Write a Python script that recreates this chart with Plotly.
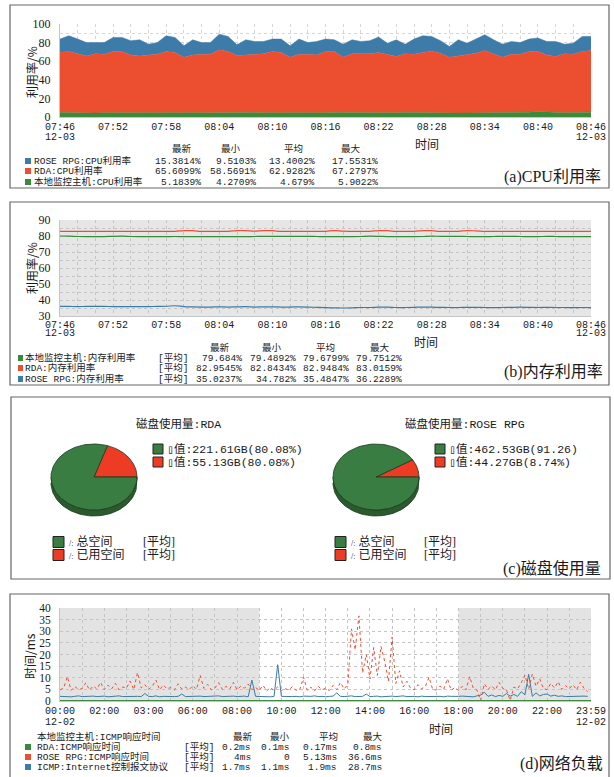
import numpy as np
import plotly.graph_objects as go

W, H = 614, 777

# ---------------- data ----------------
stat_headers = ["最新", "最小", "平均", "最大"]

# (a) CPU usage, one point per minute 07:46 .. 08:46
cpu_time_labels = ["07:46", "07:52", "07:58", "08:04", "08:10", "08:16",
                   "08:22", "08:28", "08:34", "08:40", "08:46"]
cpu_date_label = "12-03"
cpu_local = [4.9, 4.7, 4.8, 4.5, 4.3, 4.7, 4.9, 4.8, 4.6, 4.7,
             4.8, 4.9, 5.0, 4.7, 4.6, 4.8, 4.7, 4.5, 4.7, 4.9,
             4.6, 4.7, 4.8, 4.7, 4.6, 4.7, 4.4, 4.3, 4.5, 4.4,
             4.7, 4.8, 4.7, 4.6, 4.5, 4.3, 4.4, 4.7, 4.6, 4.9,
             4.7, 5.0, 4.8, 4.7, 4.4, 4.3, 4.4, 4.5, 4.7, 4.8,
             4.7, 4.9, 4.7, 5.1, 5.9, 5.4, 4.9, 4.7, 4.8, 5.0,
             5.2]
cpu_rda = [64.8, 65.7, 63.1, 61.2, 63.6, 62.8, 65.5, 65.6, 62.2, 61.0,
           62.0, 62.6, 65.4, 64.6, 59.7, 62.0, 62.8, 63.0, 67.5, 65.5,
           61.5, 62.1, 62.7, 63.2, 65.8, 64.6, 59.9, 63.2, 63.0, 62.4,
           65.7, 65.6, 59.6, 63.3, 63.4, 63.6, 64.9, 62.1, 60.4, 63.0,
           62.8, 64.3, 66.3, 63.9, 59.9, 61.4, 62.4, 64.1, 66.8, 63.1,
           59.6, 62.6, 62.8, 65.3, 64.5, 61.4, 60.1, 63.2, 62.7, 65.4,
           66.3]
cpu_rpg = [14.1, 17.0, 15.9, 14.3, 12.1, 12.5, 15.2, 15.2, 15.2, 17.3,
           11.5, 12.5, 17.0, 16.3, 12.2, 16.2, 12.5, 12.5, 16.8, 16.2,
           11.5, 16.2, 13.7, 13.3, 13.4, 14.5, 12.2, 16.3, 12.5, 14.4,
           13.4, 12.6, 14.0, 15.1, 13.3, 14.1, 16.7, 12.6, 18.0, 10.4,
           16.3, 18.1, 15.5, 13.4, 11.5, 17.3, 12.6, 15.2, 17.0, 15.1,
           14.0, 13.7, 12.5, 13.4, 14.6, 14.4, 16.2, 10.4, 11.9, 16.2,
           15.1]
cpu_names = ["ROSE RPG:CPU利用率", "RDA:CPU利用率", "本地监控主机:CPU利用率"]
cpu_stats = [["15.3814%", "9.5103%", "13.4002%", "17.5531%"],
             ["65.6099%", "58.5691%", "62.9282%", "67.2797%"],
             ["5.1839%", "4.2709%", "4.679%", "5.9022%"]]

# (b) memory usage
mem_local = [80.0, 79.9, 79.7, 79.6, 79.6, 79.6, 79.8, 79.9, 79.7, 79.6,
             79.6, 79.6, 79.6, 79.7, 79.6, 79.6, 79.6, 79.6, 79.6, 79.6,
             79.6, 79.6, 79.7, 79.8, 79.8, 79.8, 79.8, 79.8, 79.8, 79.7,
             79.6, 79.6, 79.6, 79.6, 79.7, 79.9, 79.8, 79.6, 79.6, 79.6,
             79.6, 79.7, 79.9, 79.8, 79.8, 79.8, 79.7, 79.6, 79.6, 79.7,
             79.8, 79.8, 79.7, 79.6, 79.6, 79.8, 79.7, 79.6, 79.6, 79.6,
             79.6]
mem_rda = [82.9, 82.9, 82.9, 82.9, 82.9, 82.9, 82.9, 82.9, 82.9, 82.9,
           82.9, 82.9, 82.9, 82.9, 83.4, 83.3, 82.9, 82.9, 82.9, 82.9,
           83.4, 83.4, 83.1, 83.4, 83.3, 82.9, 82.9, 82.9, 82.9, 82.9,
           82.9, 83.4, 83.1, 82.9, 82.9, 82.9, 83.4, 83.3, 82.9, 82.9,
           82.9, 83.4, 83.3, 82.9, 82.9, 82.9, 83.4, 83.2, 82.9, 82.9,
           82.9, 82.9, 82.9, 82.9, 82.9, 82.9, 82.9, 82.9, 82.9, 82.9,
           82.9]
mem_rpg = [36.0, 36.0, 35.9, 36.0, 36.0, 36.0, 35.9, 35.9, 35.9, 35.8,
           35.9, 36.0, 36.1, 36.4, 35.9, 35.7, 35.6, 35.6, 35.7, 35.6,
           35.7, 35.8, 35.6, 35.7, 35.7, 35.6, 35.6, 35.7, 35.6, 35.4,
           35.2, 35.1, 35.0, 35.1, 35.3, 35.3, 35.5, 35.6, 35.3, 35.3,
           35.4, 35.6, 35.5, 35.4, 35.3, 35.3, 35.4, 35.4, 35.3, 35.3,
           35.3, 35.4, 35.5, 35.4, 35.3, 35.4, 35.3, 35.3, 35.2, 35.3,
           35.2]
mem_names = ["本地监控主机:内存利用率", "RDA:内存利用率", "ROSE RPG:内存利用率"]
mem_stats = [["79.684%", "79.4892%", "79.6799%", "79.7512%"],
             ["82.9545%", "82.8434%", "82.9484%", "83.0159%"],
             ["35.0237%", "34.782%", "35.4847%", "36.2289%"]]

# (c) disk usage
disk_titles = ["磁盘使用量:RDA", "磁盘使用量:ROSE RPG"]
disk_rda = [221.61, 55.13]
disk_rpg = [462.53, 44.27]
disk_value_labels = [["\u25af值:221.61GB(80.08%)", "\u25af值:55.13GB(80.08%)"],
                     ["\u25af值:462.53GB(91.26)", "\u25af值:44.27GB(8.74%)"]]
disk_series = ["总空间", "已用空间"]

# (d) network, every 10 minutes over 24h
net_time_labels = ["00:00", "02:00", "03:00", "06:00", "08:00", "10:00", "12:00",
                   "14:00", "16:00", "18:00", "20:00", "22:00", "23:59"]
net_date_label = "12-02"
net_tick_minutes = [0, 120, 240, 360, 480, 600, 720, 840, 960, 1080, 1200, 1320, 1439]
net_rpg = [4.8, 5.6, 10.5, 4.6, 6.2, 5.0,
           5.3, 7.8, 4.7, 6.5, 5.1, 8.0,
           4.9, 6.8, 5.2, 7.6, 4.8, 6.0,
           5.5, 8.6, 4.9, 12.2, 5.6, 7.0,
           5.0, 6.3, 9.0, 4.8, 6.9, 5.2,
           5.8, 4.7, 7.4, 5.1, 6.0, 4.9,
           6.6, 5.0, 11.0, 5.4, 7.2, 4.8,
           5.6, 7.9, 4.9, 6.3, 5.2, 8.0,
           4.8, 6.4, 5.5, 7.3, 4.9, 5.8,
           4.5, 6.8, 4.3, 5.7, 4.6, 6.1,
           4.4, 5.3, 4.7, 6.2, 4.5, 5.0,
           10.2, 4.6, 5.9, 4.4, 6.3, 4.8,
           5.5, 4.5, 6.7, 4.9, 8.0, 5.2,
           7.0, 31.0, 22.0, 36.6, 12.0, 20.0,
           9.5, 23.0, 11.0, 23.5, 17.0, 8.5,
           27.5, 7.5, 13.0, 6.0, 8.5, 5.5,
           4.8, 7.0, 5.3, 6.2, 10.2, 5.0,
           4.7, 6.4, 5.1, 9.6, 4.6, 5.8,
           4.5, 6.3, 4.8, 10.5, 5.5, 4.7,
           0.3, 7.4, 5.0, 6.5, 4.8, 8.0,
           5.4, 4.7, 0.2, 6.0, 5.2, 7.8,
           11.2, 5.1, 11.6, 6.3, 9.5, 5.3,
           4.9, 7.6, 5.6, 8.3, 5.0, 6.6,
           5.3, 7.0, 4.8, 8.1, 5.5, 4.0]
net_icmp = [2.0, 1.9, 2.1, 1.8, 2.0, 2.2,
            1.9, 2.0, 1.8, 2.1, 1.9, 2.0,
            2.1, 1.8, 2.0, 1.9, 2.2, 1.9,
            2.0, 1.8, 2.1, 2.0, 1.9, 3.2,
            2.0, 1.9, 2.2, 1.8, 2.0, 1.9,
            2.1, 1.9, 2.0, 3.0, 1.9, 2.0,
            1.8, 2.0, 2.1, 1.9, 2.0, 1.8,
            2.0, 2.2, 1.9, 2.0, 1.8, 2.1,
            1.9, 2.0, 2.1, 1.8, 9.0, 2.0,
            1.9, 2.1, 2.0, 1.8, 2.0, 15.6,
            2.0, 1.9, 2.1, 1.9, 2.0, 1.8,
            2.1, 1.9, 2.0, 2.2, 1.9, 2.0,
            1.8, 2.0, 2.1, 3.5, 2.0, 1.9,
            2.0, 2.2, 1.9, 2.1, 2.0, 3.0,
            1.9, 2.0, 2.1, 1.8, 2.0, 1.9,
            2.1, 1.9, 2.0, 2.2, 1.9, 2.0,
            2.0, 1.8, 2.1, 1.9, 2.0, 2.1,
            1.9, 2.0, 1.8, 2.1, 2.0, 1.9,
            2.0, 2.1, 1.9, 2.0, 1.8, 2.2,
            2.5, 3.8, 2.0, 2.6, 1.9, 2.4,
            2.0, 3.2, 2.1, 2.8, 2.0, 4.0,
            2.6, 11.5, 2.0, 3.5, 2.2, 2.8,
            3.0, 2.1, 2.5, 2.0, 2.2, 1.9,
            2.0, 2.1, 1.9, 2.0, 2.1, 2.0]
net_rda = [0.2, 0.2, 0.2, 0.1, 0.2, 0.2, 0.2, 0.2, 0.2, 0.2, 0.2, 0.1, 0.2,
           0.2, 0.2, 0.2, 0.3, 0.2, 0.2, 0.2, 0.2, 0.2, 0.2, 0.2, 0.2]
offhour_blocks = [(0, 540), (1080, 1439)]
net_header = "本地监控主机:ICMP响应时间"
net_names = ["RDA:ICMP响应时间", "ROSE RPG:ICMP响应时间", "ICMP:Internet控制报文协议"]
net_stats = [["0.2ms", "0.1ms", "0.17ms", "0.8ms"],
             ["4ms", "0", "5.13ms", "36.6ms"],
             ["1.7ms", "1.1ms", "1.9ms", "28.7ms"]]

panel_labels = ["(a)CPU利用率", "(b)内存利用率", "(c)磁盘使用量", "(d)网络负载"]

# ---------------- style ----------------
G = "#3a8a3c"
R = "#ec4f30"
B = "#3d7ba8"
PIE_G = "#3a7d42"
PIE_SIDE = "#2b5a2f"
PIE_R = "#ee3b24"
MONO = "Liberation Mono, Noto Sans CJK SC, monospace"
SERIF = "Liberation Serif, Noto Sans CJK SC, serif"
CJK = "Noto Sans CJK SC"
TXT = "#1a1a1a"


def px(x):
    return x / W


def py(y):
    return 1 - y / H


annotations = []
shapes = []


def text(x, y, s, size=9.5, xanchor="left", family=MONO, angle=0, xref="paper"):
    annotations.append(dict(x=px(x) if xref == "paper" else x, y=py(y), xref=xref, yref="paper",
                            text=s, showarrow=False, xanchor=xanchor, yanchor="middle",
                            textangle=angle, borderpad=0,
                            font=dict(family=family, size=size, color=TXT)))


def rect(x0, y0, x1, y1, fill="rgba(0,0,0,0)", line="rgba(0,0,0,0)", lw=0):
    shapes.append(dict(type="rect", xref="paper", yref="paper",
                       x0=px(x0), x1=px(x1), y0=py(y1), y1=py(y0),
                       fillcolor=fill, line=dict(color=line, width=lw)))


fig = go.Figure()

# ---- (a) stacked areas
for vals, col in [(cpu_local, G), (cpu_rda, R), (cpu_rpg, B)]:
    fig.add_trace(go.Scatter(x=list(range(len(vals))), y=vals, stackgroup="cpu",
                             mode="lines", line=dict(width=0.5, color=col),
                             fillcolor=col, xaxis="x", yaxis="y", hoverinfo="skip"))

# ---- (b) lines
for vals, col in [(mem_local, G), (mem_rda, R), (mem_rpg, B)]:
    fig.add_trace(go.Scatter(x=list(range(len(vals))), y=vals, mode="lines",
                             line=dict(width=1.2, color=col, shape="spline"),
                             xaxis="x2", yaxis="y2", hoverinfo="skip"))

# ---- (d) network
fig.add_trace(go.Scatter(x=[i * 10 for i in range(len(net_icmp))], y=net_icmp, mode="lines",
                         line=dict(width=1, color=B), xaxis="x3", yaxis="y3"))
fig.add_trace(go.Scatter(x=[i * 10 for i in range(len(net_rpg))], y=net_rpg, mode="lines",
                         line=dict(width=1, color=R, dash="dot"), xaxis="x3", yaxis="y3"))
fig.add_trace(go.Scatter(x=[i * 60 for i in range(len(net_rda))], y=net_rda, mode="lines",
                         line=dict(width=1, color=G), xaxis="x3", yaxis="y3"))

# ---- (c) pseudo-3D elliptical pies
PIE_RX, PIE_RY, DEPTH = 43.0, 33.0, 6.0
pie_centers_x = [94, 376]
pie_cy = 477
for k, (vals, cx) in enumerate(zip([disk_rda, disk_rpg], pie_centers_x)):
    ax = str(4 + k)
    d = DEPTH / PIE_RY
    t = np.linspace(np.pi, 2 * np.pi, 80)
    sx = np.concatenate([np.cos(t), np.cos(t[::-1])])
    sy = np.concatenate([np.sin(t), np.sin(t[::-1]) - d])
    fig.add_trace(go.Scatter(x=sx, y=sy, fill="toself", fillcolor=PIE_SIDE, mode="lines",
                             line=dict(color="#1b3a1d", width=0.8),
                             xaxis="x" + ax, yaxis="y" + ax, hoverinfo="skip"))
    total = sum(vals)
    f_used = vals[1] / total
    wedges = [(0, 2 * np.pi * f_used, PIE_R), (2 * np.pi * f_used, 2 * np.pi, PIE_G)]
    for a0, a1, col in wedges:
        tt = np.linspace(a0, a1, 100)
        wx = np.concatenate([[0], np.cos(tt), [0]])
        wy = np.concatenate([[0], np.sin(tt), [0]])
        fig.add_trace(go.Scatter(x=wx, y=wy, fill="toself", fillcolor=col, mode="lines",
                                 line=dict(color="#1b3a1d", width=0.8),
                                 xaxis="x" + ax, yaxis="y" + ax, hoverinfo="skip"))

# ---------------- axes ----------------
grid_a = "#d6d6d6"
xcommon = dict(showline=True, linecolor="#c6c6c6", linewidth=1, zeroline=False, ticks="",
               tickfont=dict(family=MONO, size=10, color=TXT),
               griddash="dot", gridwidth=1, automargin=False)
ycommon = dict(showline=True, linecolor="#c6c6c6", linewidth=1, zeroline=False, ticks="",
               ticklabelstandoff=6, griddash="dot", gridwidth=1, automargin=False)
yfont = dict(family=SERIF, size=12, color=TXT)

layout = dict(
    width=W, height=H, margin=dict(l=0, r=0, t=0, b=0, pad=0, autoexpand=False),
    autosize=False,
    paper_bgcolor="white", plot_bgcolor="rgba(0,0,0,0)", showlegend=False,
    xaxis=dict(domain=[px(60), px(591)], range=[0, 60], anchor="y",
               tickvals=[i * 6 for i in range(len(cpu_time_labels))], ticktext=cpu_time_labels,
               showgrid=True, gridcolor=grid_a, ticklabelstandoff=0,
               minor=dict(dtick=2, tick0=0, showgrid=True, gridcolor=grid_a, griddash="dot"),
               **xcommon),
    yaxis=dict(domain=[py(117), py(24)], range=[0, 100], anchor="x", dtick=20,
               showgrid=True, gridcolor=grid_a, tickfont=yfont,
               minor=dict(dtick=10, showgrid=True, gridcolor=grid_a, griddash="dot"),
               **ycommon),
    xaxis2=dict(domain=[px(60), px(591)], range=[0, 60], anchor="y2",
                tickvals=[i * 6 for i in range(len(cpu_time_labels))], ticktext=cpu_time_labels,
                showgrid=True, gridcolor="#c4c4c4", ticklabelstandoff=-1,
                minor=dict(dtick=2, tick0=0, showgrid=True, gridcolor="#c4c4c4", griddash="dot"),
                **xcommon),
    yaxis2=dict(domain=[py(316), py(220)], range=[30, 90], anchor="x2", dtick=10,
                showgrid=True, gridcolor="#c4c4c4", tickfont=yfont,
                minor=dict(dtick=5, showgrid=True, gridcolor="#c4c4c4", griddash="dot"),
                **ycommon),
    xaxis3=dict(domain=[px(60), px(591)], range=[0, 1439], anchor="y3",
                tickvals=net_tick_minutes, ticktext=net_time_labels,
                showgrid=True, gridcolor="#c4c4c4", ticklabelstandoff=0,
                minor=dict(dtick=60, tick0=0, showgrid=True, gridcolor="#c4c4c4", griddash="dot"),
                **xcommon),
    yaxis3=dict(domain=[py(701), py(608)], range=[0, 40], anchor="x3", dtick=5,
                showgrid=True, gridcolor="#c4c4c4",
                tickfont=dict(family=SERIF, size=11.5, color=TXT), **ycommon),
)
for k, cx in enumerate(pie_centers_x):
    ax = str(4 + k)
    layout["xaxis" + ax] = dict(domain=[px(cx - 48), px(cx + 48)], range=[-48 / PIE_RX, 48 / PIE_RX],
                                visible=False, fixedrange=True, anchor="y" + ax, automargin=False)
    layout["yaxis" + ax] = dict(domain=[py(pie_cy + 43), py(pie_cy - 37)],
                                range=[-43 / PIE_RY, 37 / PIE_RY],
                                visible=False, fixedrange=True, anchor="x" + ax, automargin=False)

# ---------------- backgrounds ----------------
shapes.append(dict(type="rect", xref="x2 domain", yref="y2 domain", x0=0, x1=1, y0=0, y1=1,
                   fillcolor="#e6e6e6", line=dict(width=0), layer="below"))
for a0, a1 in offhour_blocks:
    shapes.append(dict(type="rect", xref="x3", yref="y3 domain", x0=a0, x1=a1, y0=0, y1=1,
                       fillcolor="#e3e3e3", line=dict(width=0), layer="below"))

# ---------------- panel frames ----------------
rect(10, 5, 609, 188, line="#666666", lw=1.2)
rect(10, 202, 609, 385, line="#666666", lw=1.2)
rect(11, 397, 610, 579, line="#666666", lw=1.2)
rect(10, 594, 609, 800, line="#666666", lw=1.2)

# date lines under first/last ticks
for xr, last, ydate, lab in [("x", 60, 138, cpu_date_label), ("x2", 60, 334, cpu_date_label),
                             ("x3", 1439, 722, net_date_label)]:
    text(0, ydate, lab, 10, "center", MONO, xref=xr)
    text(last, ydate, lab, 10, "center", MONO, xref=xr)

# ---------------- (a) texts ----------------
text(31, 72, "利用率/%", 12, "center", CJK, angle=-90)
text(427, 144, "时间", 12, "center", CJK)
for h, cx in zip(stat_headers, [182, 231, 293, 351]):
    text(cx, 149, h, 9.5, "center")
for i, (name, stats, col) in enumerate(zip(cpu_names, cpu_stats, [B, R, G])):
    yy = [161, 171, 182][i]
    rect(25, yy - 3, 31, yy + 3, fill=col)
    text(33, yy, name, 9.5)
    for v, rx in zip(stats, [202, 257, 316, 379]):
        text(rx, yy, v, 9.5, "right")
text(602, 177, panel_labels[0], 16, "right", SERIF)

# ---------------- (b) texts ----------------
text(31, 268, "利用率/%", 12, "center", CJK, angle=-90)
text(426, 341, "时间", 12, "center", CJK)
for h, cx in zip(stat_headers, [220, 272, 325, 380]):
    text(cx, 348, h, 9.5, "center")
for i, (name, stats, col) in enumerate(zip(mem_names, mem_stats, [G, R, B])):
    yy = [358, 368, 379][i]
    rect(18, yy - 3, 23, yy + 3, fill=col)
    text(24, yy, name, 9.5)
    text(157, yy, "[平均]", 9.5)
    for v, rx in zip(stats, [243, 297, 350, 403]):
        text(rx, yy, v, 9.5, "right")
text(604, 372, panel_labels[1], 16, "right", SERIF)

# ---------------- (c) texts ----------------
title_cx = [178, 465]
leg_mark_x = [153, 435]
bot_mark_x = [53, 335]
bot_avg_x = [142, 423]
for k in range(2):
    text(title_cx[k], 424, disk_titles[k], 11.5, "center")
    for j, col in enumerate([PIE_G, PIE_R]):
        yy = [449, 462][j]
        rect(leg_mark_x[k], yy - 5, leg_mark_x[k] + 10, yy + 5, fill=col, line="#222222", lw=1)
        text(leg_mark_x[k] + 13, yy, disk_value_labels[k][j], 11.5)
        yb = [542, 555][j]
        rect(bot_mark_x[k], yb - 5.5, bot_mark_x[k] + 11, yb + 5.5, fill=col, line="#222222", lw=1)
        text(bot_mark_x[k] + 15, yb,
             "<span style='font-size:8px'>/:</span> " + disk_series[j], 12, "left", SERIF)
        text(bot_avg_x[k], yb, "[平均]", 12, "left", SERIF)
text(602, 568, panel_labels[2], 16, "right", SERIF)

# ---------------- (d) texts ----------------
text(29, 656, "时间/ms", 12, "center", CJK, angle=-90)
text(441, 728, "时间", 12, "center", CJK)
text(36, 737, net_header, 9.5)
for h, cx in zip(stat_headers, [243, 280, 328, 373]):
    text(cx, 737, h, 9.5, "center")
for i, (name, stats, col) in enumerate(zip(net_names, net_stats, [G, R, B])):
    yy = [747, 757, 767][i]
    rect(25, yy - 3, 31, yy + 3, fill=col)
    text(36, yy, name, 9.5)
    text(183, yy, "[平均]", 9.5)
    for v, rx in zip(stats, [252, 291, 338, 383]):
        text(rx, yy, v, 9.5, "right")
text(604, 763, panel_labels[3], 16, "right", SERIF)

layout["annotations"] = annotations
layout["shapes"] = shapes
fig.update_layout(**layout)
fig.write_html("out.html")
